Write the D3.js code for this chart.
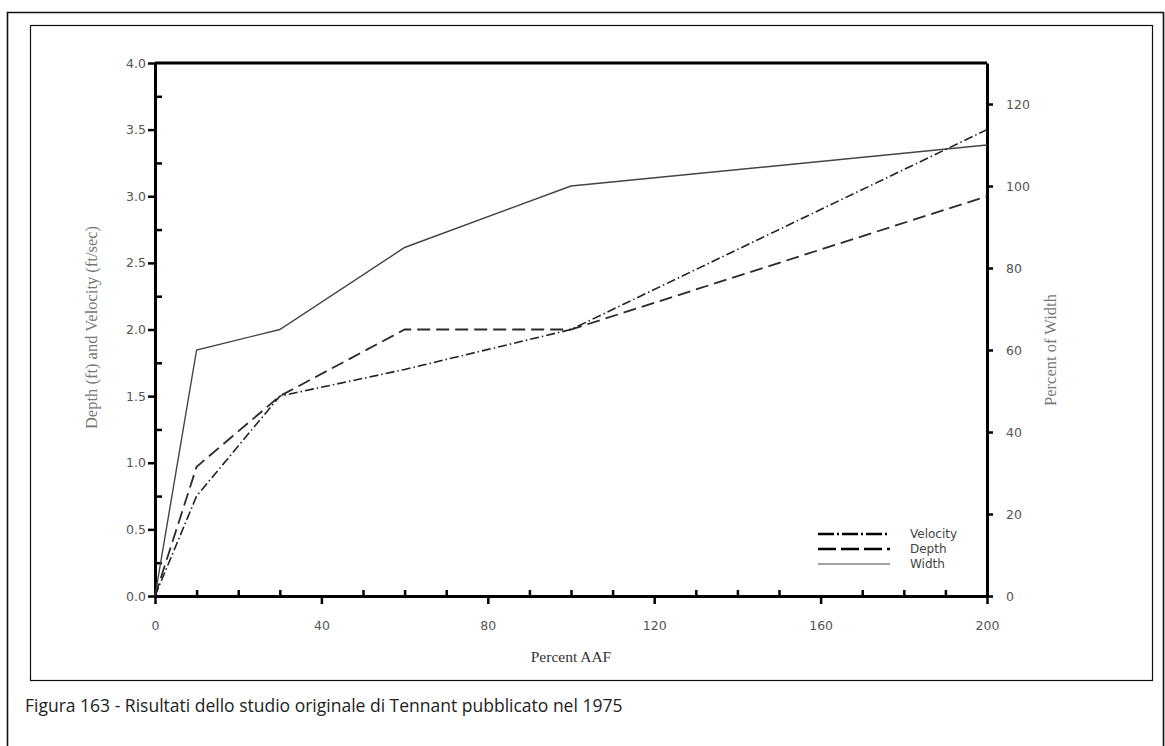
<!DOCTYPE html>
<html><head><meta charset="utf-8">
<script src="https://cdn.jsdelivr.net/npm/d3@7"></script>
<style>
html,body{margin:0;padding:0;background:#fff;}
svg{display:block;}
</style></head>
<body>
<svg id="chart" width="1165" height="746"></svg>
<script>
// ---- data ----
const percentAAF = [0, 10, 30, 60, 100, 200];
const velocity   = [0, 0.75, 1.5, 1.7, 2.0, 3.5];   // ft/sec, left axis
const depth      = [0, 0.97, 1.5, 2.0, 2.0, 3.0];    // ft, left axis
const widthPct   = [0, 60, 65, 85, 100, 110];        // percent, right axis
const xTickLabels = ["0", "40", "80", "120", "160", "200"];
const yLeftTickLabels = ["0.0","0.5","1.0","1.5","2.0","2.5","3.0","3.5","4.0"];
const yRightTickLabels = ["0","20","40","60","80","100","120"];
const legendNames = ["Velocity", "Depth", "Width"];
const caption = "Figura 163 - Risultati dello studio originale di Tennant pubblicato nel 1975";

// ---- layout ----
const svg = d3.select("#chart");
const L = 155, R = 987, T = 63, B = 596;

const x = d3.scaleLinear().domain([0, 200]).range([L, R]);
const yL = d3.scaleLinear().domain([0, 4]).range([B, T]);
const yR = d3.scaleLinear().domain([0, 130]).range([B, T]);

// frames
svg.append("path").attr("d", "M7.5,760 V12.5 H1163.5 V760")
  .attr("fill", "none").attr("stroke", "#111").attr("stroke-width", 1.6);
svg.append("rect").attr("x", 30.5).attr("y", 25.5).attr("width", 1122).attr("height", 655)
  .attr("fill", "none").attr("stroke", "#111").attr("stroke-width", 1.2);

const tickFont = "'DejaVu Sans', sans-serif";
const tickColor = "#555";

// left axis
const gL = svg.append("g").attr("transform", `translate(${L},0)`);
gL.call(d3.axisLeft(yL).tickValues(yLeftTickLabels.map(Number)).tickFormat(d3.format(".1f")).tickSize(7).tickSizeOuter(0));
gL.append("g").call(d3.axisRight(yL).tickValues(d3.range(0.25, 4, 0.5)).tickSize(7).tickFormat("").tickSizeOuter(0))
  .select(".domain").remove();

// right axis
const gR = svg.append("g").attr("transform", `translate(${R},0)`);
gR.call(d3.axisRight(yR).tickValues(yRightTickLabels.map(Number)).tickFormat(d3.format("d")).tickSize(6).tickSizeOuter(0));

// bottom axis
const gB = svg.append("g").attr("transform", `translate(0,${B})`);
gB.call(d3.axisBottom(x).tickValues(xTickLabels.map(Number)).tickSize(8).tickPadding(17).tickSizeOuter(0));
gB.append("g").call(d3.axisTop(x).tickValues(d3.range(10, 200, 10).filter(v => v % 40 !== 0)).tickSize(6).tickFormat("").tickSizeOuter(0))
  .select(".domain").remove();

// top border
svg.append("line").attr("x1", L).attr("x2", R).attr("y1", T).attr("y2", T)
  .attr("stroke", "#000").attr("stroke-width", 3);

[gL, gR, gB].forEach(g => {
  g.selectAll(".domain").attr("stroke", "#000").attr("stroke-width", 3);
  g.selectAll(".tick line").attr("stroke", "#000").attr("stroke-width", 2.5);
  g.selectAll(".tick text").attr("fill", tickColor).attr("font-family", tickFont).attr("font-size", 12.5);
});
gL.selectAll(".tick text").attr("dx", "1");
gR.selectAll(".tick text").attr("dx", "10");

// axis titles
const serif = "'Liberation Serif', 'DejaVu Serif', serif";
svg.append("text").attr("transform", `translate(97,${(T + B) / 2 - 2}) rotate(-90)`)
  .attr("text-anchor", "middle").attr("font-family", serif).attr("font-size", 16.5)
  .attr("fill", "#777").text("Depth (ft) and Velocity (ft/sec)");
svg.append("text").attr("transform", `translate(1056,${yR(60)}) rotate(-90)`)
  .attr("text-anchor", "middle").attr("font-family", serif).attr("font-size", 16.5)
  .attr("fill", "#777").text("Percent of Width");
svg.append("text").attr("x", 571).attr("y", 662)
  .attr("text-anchor", "middle").attr("font-family", serif).attr("font-size", 15.5)
  .attr("fill", "#333").text("Percent AAF");

// lines
const lineL = d3.line().x((d, i) => x(percentAAF[i])).y(d => yL(d));
const lineR = d3.line().x((d, i) => x(percentAAF[i])).y(d => yR(d));

const styles = {
  Velocity: { dash: "9,3,1.5,3", width: 1.6, color: "#222" },
  Depth:    { dash: "13,6", width: 1.8, color: "#2a2a2a" },
  Width:    { dash: null, width: 1.4, color: "#444" }
};

svg.append("path").attr("d", lineR(widthPct)).attr("fill", "none")
  .attr("stroke", styles.Width.color).attr("stroke-width", styles.Width.width);
svg.append("path").attr("d", lineL(depth)).attr("fill", "none")
  .attr("stroke", styles.Depth.color).attr("stroke-width", styles.Depth.width)
  .attr("stroke-dasharray", styles.Depth.dash);
svg.append("path").attr("d", lineL(velocity)).attr("fill", "none")
  .attr("stroke", styles.Velocity.color).attr("stroke-width", styles.Velocity.width)
  .attr("stroke-dasharray", styles.Velocity.dash);

// legend
const legendY = [534, 549, 564];
const lg = svg.append("g");
legendNames.forEach((name, i) => {
  lg.append("line").attr("x1", 818).attr("x2", 890).attr("y1", legendY[i]).attr("y2", legendY[i])
    .attr("stroke", name === "Width" ? "#444" : "#000")
    .attr("stroke-width", name === "Width" ? 1.2 : 2.6)
    .attr("stroke-dasharray", name === "Velocity" ? "16,3,2,3" : (name === "Depth" ? "18,5" : null));
  lg.append("text").attr("x", 910).attr("y", legendY[i] + 4)
    .attr("font-family", "'DejaVu Sans', sans-serif").attr("font-size", 12)
    .attr("fill", "#444").text(name);
});

// caption
svg.append("text").attr("x", 25).attr("y", 712)
  .attr("font-family", "'Open Sans', sans-serif").attr("font-size", 17.5)
  .attr("fill", "#222").text(caption);
</script>
</body></html>
